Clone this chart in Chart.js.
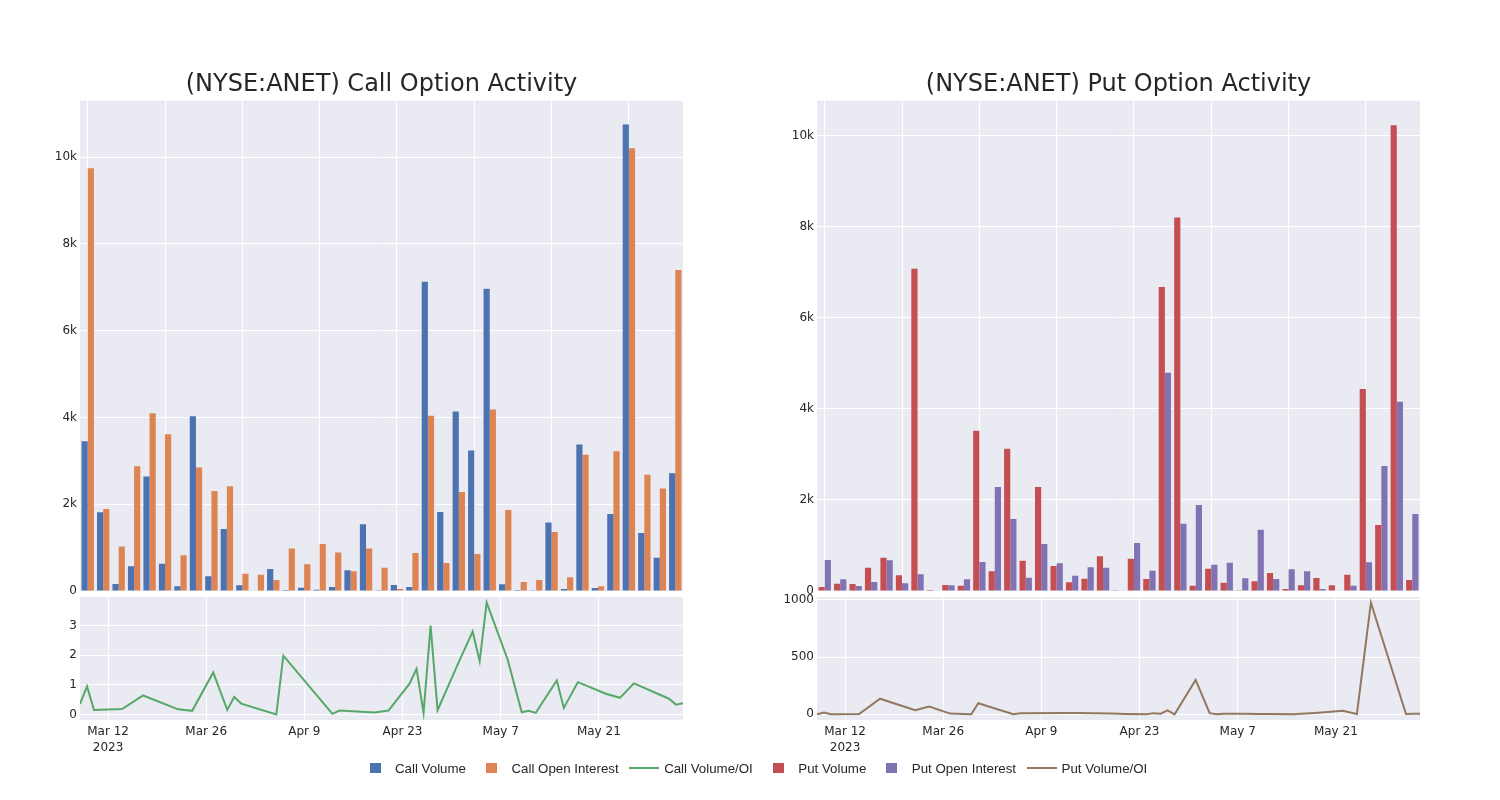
<!DOCTYPE html>
<html>
<head>
<meta charset="utf-8">
<script src="https://cdn.jsdelivr.net/npm/chart.js@4.4.0/dist/chart.umd.min.js"></script>
<style>
	body { margin: 0; background: #fff; width: 1500px; height: 800px; position: relative; overflow: hidden; }
	.caja { position: absolute; }
	#leyenda { position: absolute; left: 360px; top: 759px; display: flex; align-items: center; font-family: 'Liberation Sans', Arial, sans-serif; font-size: 13.3px; color: #262626; white-space: nowrap; }
	.item { display: flex; align-items: center; margin-right: 10.5px; }
	.mango { width: 30px; height: 18px; position: relative; margin-right: 5px; }
	.cuadro { position: absolute; left: 9.5px; top: 4px; width: 11px; height: 10px; }
	.linea { position: absolute; left: 0; top: 8px; width: 30px; height: 2px; }
</style>
</head>
<body>
<div class="caja" style="left:20px;top:70px"><canvas id="barCall" width="663" height="529"></canvas></div>
<div class="caja" style="left:757px;top:70px"><canvas id="barPut" width="663" height="529"></canvas></div>
<div class="caja" style="left:20px;top:589px"><canvas id="lineCall" width="663" height="171"></canvas></div>
<div class="caja" style="left:757px;top:589px"><canvas id="linePut" width="663" height="171"></canvas></div>
<div id="leyenda"></div>

<script>
// datos
const fechas = ['2023-03-08','2023-03-09','2023-03-10','2023-03-14','2023-03-17','2023-03-22','2023-03-24','2023-03-27','2023-03-29','2023-03-30',
	'2023-03-31','2023-04-05','2023-04-06','2023-04-13','2023-04-14','2023-04-19','2023-04-21','2023-04-24','2023-04-25','2023-04-26',
	'2023-04-27','2023-04-28','2023-05-01','2023-05-03','2023-05-04','2023-05-05','2023-05-08','2023-05-10','2023-05-11','2023-05-12',
	'2023-05-15','2023-05-16','2023-05-18','2023-05-22','2023-05-24','2023-05-26','2023-05-31','2023-06-01','2023-06-02'];

const callVolume = [3454, 1815, 162, 569, 2638, 631, 108, 4031, 338, 1431,
	131, 0, 508, 23, 77, 31, 92, 477, 1538, 20,
	140, 92, 7131, 1823, 4138, 3238, 6969, 154, 25, 8,
	1577, 46, 3377, 69, 1777, 10754, 1338, 769, 2715];
const callOpenInterest = [9746, 1892, 1023, 2877, 4100, 3615, 823, 2846, 2308, 2415,
	400, 377, 254, 977, 615, 1085, 885, 454, 977, 538,
	47, 877, 4038, 646, 2285, 854, 4185, 1869, 208, 254,
	1362, 315, 3138, 108, 3223, 10208, 2677, 2362, 7400];
const callVolOI = [0.35, 0.95, 0.15, 0.18, 0.64, 0.17, 0.12, 1.42, 0.15, 0.59,
	0.36, 0.0, 1.99, 0.02, 0.13, 0.06, 0.13, 1.04, 1.54, 0.05,
	3.0, 0.14, 1.76, 2.8, 1.8, 3.78, 1.85, 0.07, 0.12, 0.05,
	1.15, 0.22, 1.09, 0.7, 0.56, 1.05, 0.53, 0.33, 0.38];

const putVolume = [88, 161, 154, 512, 732, 344, 7079, 22, 132, 117,
	3521, 432, 3126, 666, 2284, 549, 190, 271, 761, 15,
	710, 264, 6677, 8207, 117, 490, 183, 15, 212, 395,
	44, 124, 286, 124, 359, 4436, 1449, 10234, 242];
const putOpenInterest = [681, 256, 110, 198, 673, 168, 366, 0, 124, 256,
	637, 2284, 1581, 293, 1032, 608, 337, 520, 512, 0,
	1054, 447, 4795, 1479, 1889, 578, 622, 278, 1347, 264,
	476, 432, 44, 0, 117, 630, 2745, 4158, 1691];
const putVolOI = [0, 15, 0, 3, 136, 35, 68, 6, 3, 0,
	97, 0, 9, 12, 12, 6, 3, 0, 10, 5,
	35, 0, 300, 10, 0, 5, 4, 3, 3, 2,
	0, 4, 12, 30, 3, 975, 3, 5, 4];

const ticksFechas = ['2023-03-12','2023-03-26','2023-04-09','2023-04-23','2023-05-07','2023-05-21'];
const ticksEtiquetas = [['Mar 12','2023'], 'Mar 26', 'Apr 9', 'Apr 23', 'May 7', 'May 21'];
const ticksBarras = [0, 2000, 4000, 6000, 8000, 10000];
const ticksCallRatio = [0, 1, 2, 3];
const ticksPutRatio = [0, 500, 1000];

Chart.defaults.font.family = "'DejaVu Sans', sans-serif";
Chart.defaults.font.size = 12;
Chart.defaults.color = '#262626';
Chart.defaults.animation = false;

let fondo = {
	id: 'fondo',
	beforeDraw(chart){
		let a = chart.chartArea;
		let c = chart.ctx;
		c.save();
		c.fillStyle = '#EAEAF2';
		c.fillRect(a.left, a.top, a.right - a.left, a.bottom - a.top);
		c.restore();
	}
};

function dia(f){
	return (Date.parse(f) - Date.parse(fechas[0])) / 864e5;
}

function barras(id, titulo, series, maximo){
	new Chart(document.getElementById(id), {
		type: 'bar',
		data: {
			labels: fechas,
			datasets: series.map(s => ({
				label: s.nombre,
				data: s.datos,
				backgroundColor: s.color,
				borderWidth: 0,
				categoryPercentage: 0.8,
				barPercentage: 1
			}))
		},
		options: {
			responsive: false,
			layout: {padding: {top: 0, left: 0, right: 0, bottom: 8}},
			plugins: {
				legend: {display: false},
				tooltip: {enabled: false},
				title: {
					display: true,
					text: titulo,
					fullSize: false,
					font: {size: 24, weight: 'normal'},
					color: '#262626',
					padding: {top: 0, bottom: 2}
				}
			},
			scales: {
				x: {
					offset: true,
					ticks: {display: false},
					border: {display: false},
					grid: {
						offset: false,
						drawTicks: false,
						color: c => (c.index % 5 === 0) ? '#ffffff' : 'rgba(0,0,0,0)'
					}
				},
				y: {
					min: 0,
					max: maximo,
					border: {display: false},
					grid: {color: '#ffffff', drawTicks: false},
					ticks: {padding: 3, callback: v => (v === 0) ? '0' : (v / 1000) + 'k'},
					afterBuildTicks: s => { s.ticks = ticksBarras.map(v => ({value: v})); },
					afterFit: s => { s.width = 60; s.paddingTop = 0; s.paddingBottom = 0; }
				}
			}
		},
		plugins: [fondo]
	});
}

function lineas(id, nombre, valores, color, minimo, maximo, ticksY){
	new Chart(document.getElementById(id), {
		type: 'line',
		data: {
			datasets: [{
				label: nombre,
				data: fechas.map((f, i) => ({x: dia(f), y: valores[i]})),
				borderColor: color,
				borderWidth: 2,
				pointRadius: 0,
				tension: 0,
				fill: false
			}]
		},
		options: {
			responsive: false,
			layout: {padding: {top: 8, left: 0, right: 0, bottom: 0}},
			plugins: {legend: {display: false}, tooltip: {enabled: false}},
			scales: {
				x: {
					type: 'linear',
					min: dia(fechas[0]),
					max: dia(fechas[fechas.length - 1]),
					border: {display: false},
					grid: {color: '#ffffff', drawTicks: false},
					ticks: {padding: 4, maxRotation: 0, autoSkip: false, font: {lineHeight: 1.35}, callback: (v, i) => ticksEtiquetas[i]},
					afterBuildTicks: s => { s.ticks = ticksFechas.map(f => ({value: dia(f)})); },
					afterFit: s => { s.height = 40; s.paddingLeft = 0; s.paddingRight = 0; }
				},
				y: {
					min: minimo,
					max: maximo,
					border: {display: false},
					grid: {color: '#ffffff', drawTicks: false},
					ticks: {padding: 3, callback: v => String(v)},
					afterBuildTicks: s => { s.ticks = ticksY.map(v => ({value: v})); },
					afterFit: s => { s.width = 60; s.paddingTop = 0; s.paddingBottom = 0; }
				}
			}
		},
		plugins: [fondo]
	});
}

barras('barCall', '(NYSE:ANET) Call Option Activity', [
	{nombre: 'Call Volume', datos: callVolume, color: '#4C72B0'},
	{nombre: 'Call Open Interest', datos: callOpenInterest, color: '#DD8452'}
], 11300);

barras('barPut', '(NYSE:ANET) Put Option Activity', [
	{nombre: 'Put Volume', datos: putVolume, color: '#C44E52'},
	{nombre: 'Put Open Interest', datos: putOpenInterest, color: '#8172B3'}
], 10770);

lineas('lineCall', 'Call Volume/OI', callVolOI, '#55A868', -0.19, 3.97, ticksCallRatio);
lineas('linePut', 'Put Volume/OI', putVolOI, '#937860', -50, 1025, ticksPutRatio);

// leyenda comun abajo
let items = [
	{nombre: 'Call Volume', color: '#4C72B0', tipo: 'cuadro'},
	{nombre: 'Call Open Interest', color: '#DD8452', tipo: 'cuadro'},
	{nombre: 'Call Volume/OI', color: '#55A868', tipo: 'linea'},
	{nombre: 'Put Volume', color: '#C44E52', tipo: 'cuadro'},
	{nombre: 'Put Open Interest', color: '#8172B3', tipo: 'cuadro'},
	{nombre: 'Put Volume/OI', color: '#937860', tipo: 'linea'}
];
let leyenda = document.getElementById('leyenda');
items.forEach(function(it){
	let d = document.createElement('div');
	d.className = 'item';
	d.innerHTML = '<div class="mango"><div class="' + it.tipo + '" style="background:' + it.color + '"></div></div><span>' + it.nombre + '</span>';
	leyenda.appendChild(d);
});
</script>
</body>
</html>
